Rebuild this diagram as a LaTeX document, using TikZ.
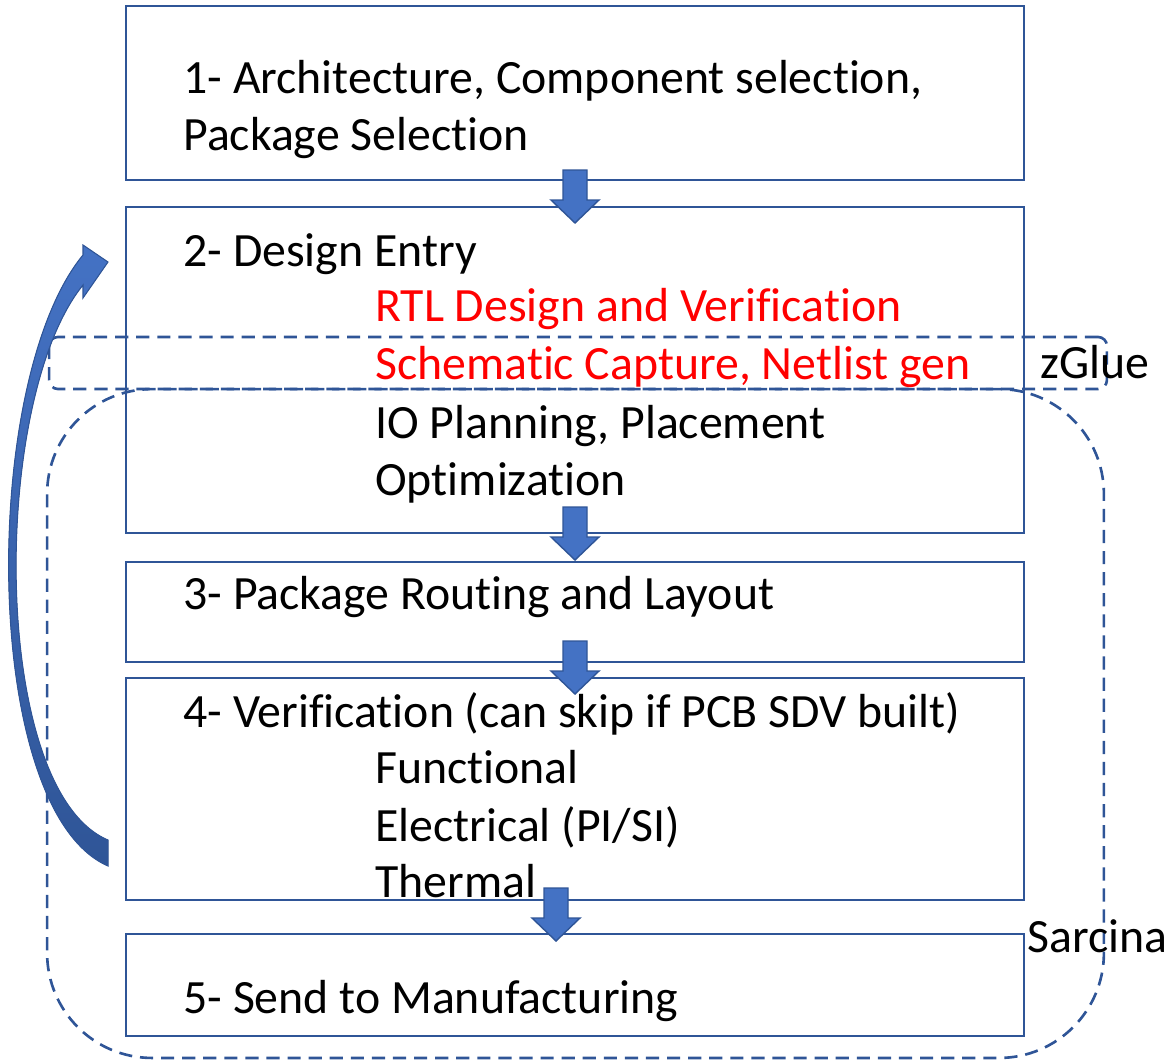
\documentclass[tikz,border=0pt]{standalone}
\usepackage{fontspec}
\setmainfont{Carlito}[Ligatures={NoCommon}]
\usepackage{tikz}
\usetikzlibrary{calc}
\definecolor{lineBlue}{HTML}{2F5597}
\definecolor{fillBlue}{HTML}{4472C4}
\definecolor{shadeBlue}{HTML}{2F5597}
\definecolor{textRed}{HTML}{FF0000}

\begin{document}
\begin{tikzpicture}[x=0.02cm,y=-0.02cm,
  stage/.style={draw=lineBlue,line width=1.4pt,minimum width=17.96cm,inner sep=0pt},
  txt/.style={anchor=base west,inner sep=0pt,font=\fontsize{27.2}{32}\selectfont},
  region/.style={draw=lineBlue,line width=1.5pt,dash pattern=on 7.5pt off 4.5pt,inner sep=0pt},
  blockdown/.pic={\filldraw[fill=fillBlue,draw=lineBlue,line width=0.8pt]
    (-12,-53)--(12,-53)--(12,-23)--(24,-23)--(0,0)--(-24,-23)--(-12,-23)--cycle;}]
\useasboundingbox (0,0) rectangle (1168,1061);
% stages
\node[stage,minimum height=3.48cm] (s1) at (575,93) {};
\node[stage,minimum height=6.52cm] (s2) at (575,370) {};
\node[stage,minimum height=2.00cm] (s3) at (575,612) {};
\node[stage,minimum height=4.44cm] (s4) at (575,789) {};
\node[stage,minimum height=2.04cm] (s5) at (575,985) {};
% texts
\node[txt] (t1a) at (183,93) {1- Architecture, Component selection,};
\node[txt] (t1b) at (183,150) {Package Selection};
\node[txt] (t2a) at (183,266) {2- Design Entry};
\node[txt,textRed] (t2b) at (375,321) {RTL Design and Verification};
\node[txt,textRed] (t2c) at (375,379) {Schematic Capture, Netlist gen};
\node[txt] (t2d) at (375,438) {IO Planning, Placement};
\node[txt] (t2e) at (375,495) {Optimization};
\node[txt] (t3a) at (183,609) {3- Package Routing and Layout};
\node[txt] (t4a) at (183,727) {4- Verification (can skip if PCB SDV built)};
\node[txt] (t4b) at (375,783) {Functional};
\node[txt] (t4c) at (375,841) {Electrical (PI/SI)};
\node[txt] (t4d) at (375,897) {Thermal};
\node[txt] (t5a) at (183,1013) {5- Send to Manufacturing};
% dashed regions
\node[region,rounded corners=5pt,minimum width=21.16cm,minimum height=1.04cm] (zglue) at (578,363) {};
\node[region,rounded corners=2.1cm,minimum width=21.14cm,minimum height=13.38cm] (sarcina) at (575.5,723.5) {};
\node[txt] (lzglue) at (1040,378) {zGlue};
\node[txt] (lsarcina) at (1027,952) {Sarcina};
% flow arrows
\foreach \x/\y in {575/223,575/560,575/694,556/941}
  \pic at (\x,\y) {blockdown};
% loop back from verification
\filldraw[top color=fillBlue,bottom color=shadeBlue,draw=lineBlue,line width=0.6pt]
  (108,866) .. controls (-20,810) and (-20,380) .. (83,255)
  -- (83,245) -- (108,262) -- (83,298) -- (83,285)
  .. controls (-10,400) and (-10,790) .. (108,840) -- cycle;
\end{tikzpicture}
\end{document}
